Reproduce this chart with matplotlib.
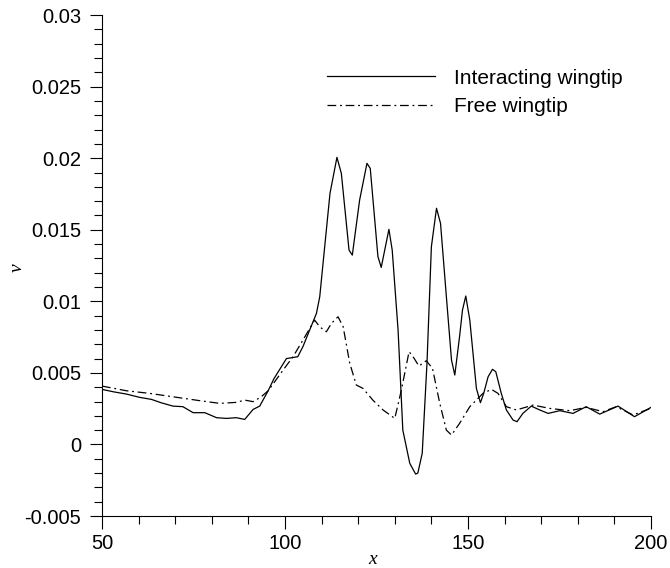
import numpy as np
import matplotlib
matplotlib.use("Agg")
import matplotlib.pyplot as plt
from matplotlib.ticker import MultipleLocator

# interacting wingtip (solid)
x_int = [50, 53.1, 56.7, 60.3, 63.5, 66.2, 69.4, 72.1, 74.9, 78.1, 81.3, 84.0,
         86.7, 89.0, 91.3, 93.1, 95.4, 97.0, 100.4,
         103.5, 104.9, 108.6, 109.5, 110.4, 112.3, 114.2, 115.4, 117.5, 118.4,
         120.4, 122.4, 123.3, 125.4, 126.3, 128.4, 129.3, 130.9, 132.2, 134.1,
         135.7, 136.3, 137.5, 138.8, 140.0, 141.4, 142.5, 144.1, 145.5, 146.4,
         147.7, 148.5, 149.4, 150.5, 152.3, 153.4, 154.3, 155.5, 156.7, 157.6,
         159.1, 160.5, 162.3, 163.4, 165.0, 167.3, 169.6, 171.9, 175.1, 178.7,
         182.3, 186.0, 191.0, 195.5, 200]
v_int = [0.00385, 0.00368, 0.00352, 0.00329, 0.00315, 0.00291, 0.00268, 0.00264,
         0.00222, 0.00222, 0.00187, 0.00182, 0.00187, 0.00175, 0.00245, 0.00268,
         0.00375, 0.0046, 0.0060,
         0.00613, 0.00683, 0.00916, 0.01032,
         0.01265, 0.01754, 0.02006, 0.01894, 0.01358, 0.01323, 0.01708, 0.01964,
         0.01929, 0.01312, 0.01237, 0.01503, 0.01358, 0.0080, 0.0010, -0.00132,
         -0.00207, -0.0020, -0.00062, 0.00567, 0.01381, 0.0165, 0.01545, 0.01032,
         0.0059, 0.00485, 0.00753, 0.00939, 0.01037, 0.00869, 0.00392, 0.00292,
         0.00357, 0.00473, 0.00525, 0.00508, 0.00357, 0.00241, 0.00171, 0.00159,
         0.00217, 0.00268, 0.00241, 0.00217, 0.00236, 0.00217, 0.00264, 0.00212,
         0.00268, 0.00194, 0.00259]

# free wingtip (dash-dot)
x_free = [50, 56.7, 63.0, 69.4, 76.7, 82.2, 86.7, 89.0, 91.3, 93.5, 95.4,
          99.5, 102.2, 104.9, 108.1,
          109.5, 111.3, 112.7, 114.5, 115.9, 117.7, 119.5, 121.3, 124.0, 126.8,
          130.0, 131.8, 133.9, 135.0, 136.6, 138.6, 140.3, 142.3, 144.1, 145.5,
          147.7, 150.5, 154.1, 156.4, 158.2, 160.5, 163.2, 167.8, 172.3, 177.8,
          182.3, 186.9, 190.5, 195.1, 200]
v_free = [0.00408, 0.00375, 0.00357, 0.00333, 0.00306, 0.00287, 0.00294, 0.0031,
          0.00299, 0.00333, 0.00375, 0.0052,
          0.00613, 0.00729, 0.00869, 0.00822, 0.00787, 0.00846, 0.00892, 0.00822,
          0.00567, 0.00415, 0.00392, 0.0031, 0.00241, 0.00182, 0.0038, 0.00648,
          0.00613, 0.00548, 0.00585, 0.00532, 0.00287, 0.0010, 0.00066, 0.00147,
          0.00264, 0.00357, 0.00385, 0.00357, 0.00264, 0.00241, 0.00275, 0.00252,
          0.00236, 0.00259, 0.00229, 0.00264, 0.00206, 0.00253]

xticks = [50, 100, 150, 200]
yticks = [0.03, 0.025, 0.02, 0.015, 0.01, 0.005, 0, -0.005]
ytick_labels = ["0.03", "0.025", "0.02", "0.015", "0.01", "0.005", "0", "-0.005"]

plt.rcParams['font.family'] = ['Liberation Sans', 'DejaVu Sans']

fig = plt.figure(figsize=(6.7, 5.68), dpi=100)
ax = fig.add_axes([0.1522, 0.0915, 0.8194, 0.882])

ax.plot(x_int, v_int, color='black', lw=0.9, label="Interacting wingtip")
ax.plot(x_free, v_free, color='black', lw=0.9, linestyle=(0, (7, 3, 1.5, 3)),
        label="Free wingtip")

ax.set_xlim(50, 200)
ax.set_ylim(-0.005, 0.03)
ax.set_xticks(xticks)
ax.set_xticklabels([str(t) for t in xticks])
ax.set_yticks(yticks)
ax.set_yticklabels(ytick_labels)
ax.xaxis.set_minor_locator(MultipleLocator(10))
ax.yaxis.set_minor_locator(MultipleLocator(0.001))
ax.tick_params(which='major', direction='out', length=9, width=0.8,
               labelsize=14.5)
ax.tick_params(axis='x', which='major', pad=4)
ax.tick_params(axis='y', which='major', pad=6)
ax.tick_params(which='minor', direction='out', length=5.5, width=0.8)

for s in ['top', 'right']:
    ax.spines[s].set_visible(False)
for s in ['left', 'bottom']:
    ax.spines[s].set_linewidth(0.8)

ax.set_xlabel("x", family=['Liberation Serif'], style='italic', fontsize=14)
ax.set_ylabel("v", family=['Liberation Serif'], style='italic', fontsize=14)
ax.xaxis.set_label_coords(0.492, -0.07)
ax.yaxis.set_label_coords(-0.138, 0.495)

ax.legend(loc='upper left', bbox_to_anchor=(0.41, 0.893), frameon=False,
          fontsize=15, handlelength=5.2, handletextpad=0.9, labelspacing=0.45,
          borderpad=0, borderaxespad=0)

fig.savefig("out.png", dpi=100)
